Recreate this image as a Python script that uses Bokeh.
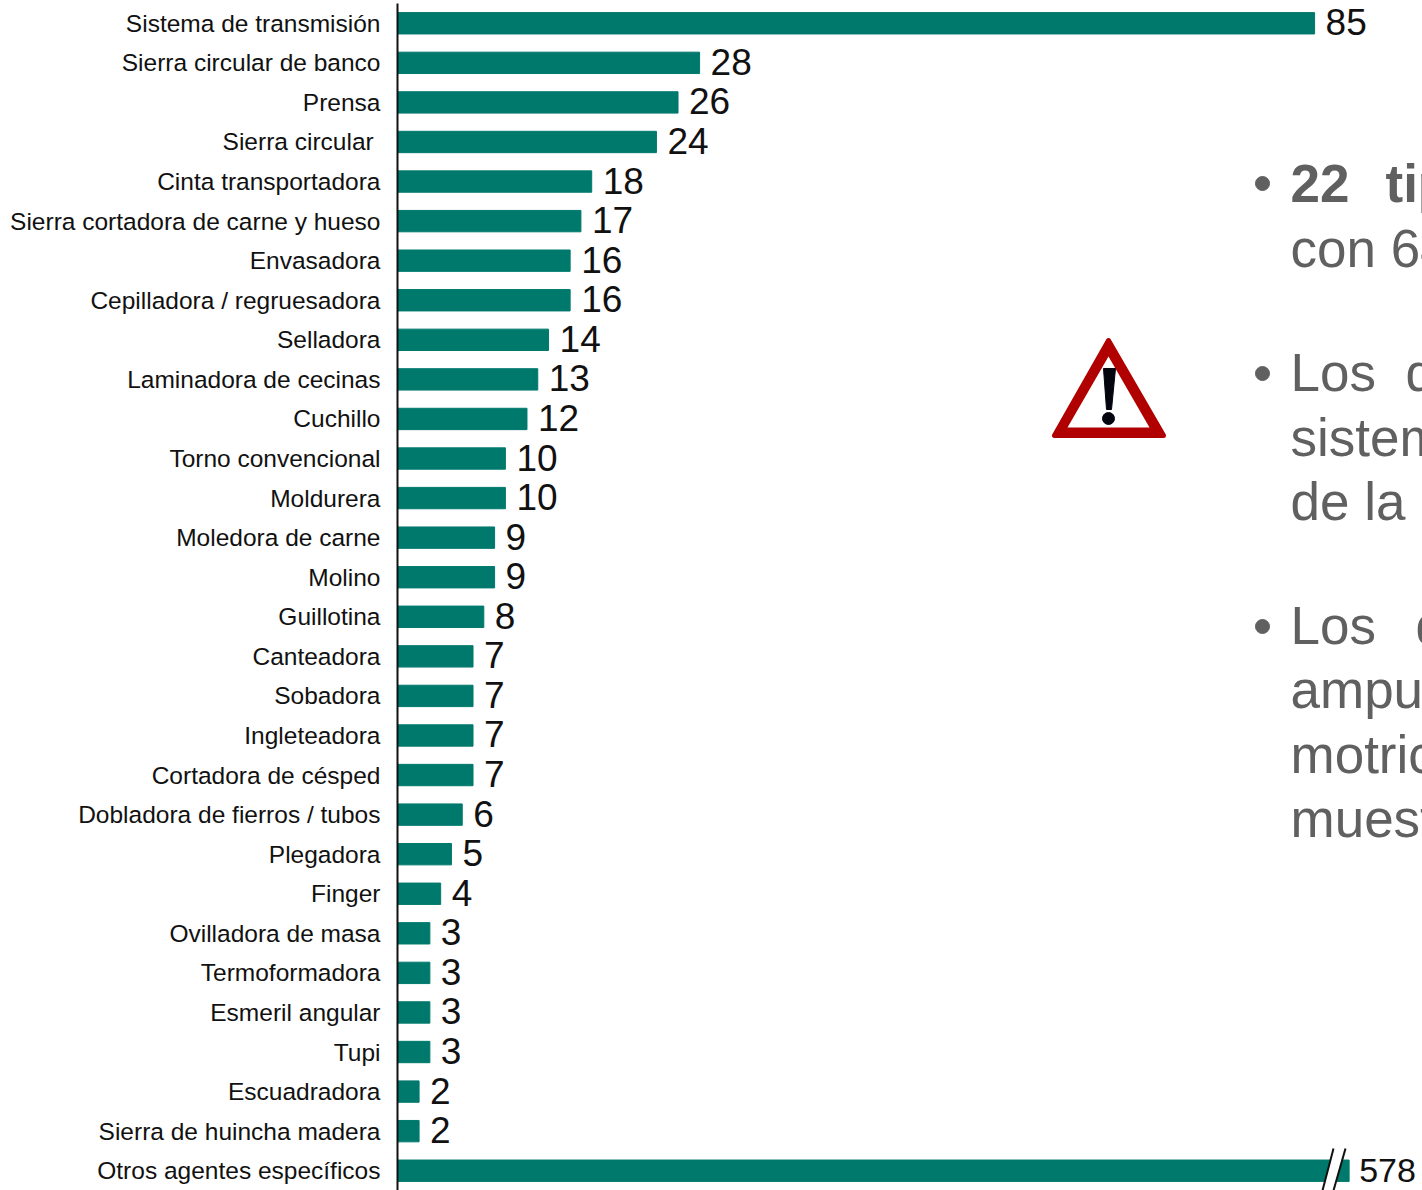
from bokeh.plotting import figure
from bokeh.models import Range1d, FixedTicker
from bokeh.core.properties import value
from bokeh.embed import file_html
from bokeh.resources import INLINE

categories = ["Sistema de transmisión", "Sierra circular de banco", "Prensa", "Sierra circular ",
              "Cinta transportadora", "Sierra cortadora de carne y hueso", "Envasadora",
              "Cepilladora / regruesadora", "Selladora", "Laminadora de cecinas", "Cuchillo",
              "Torno convencional", "Moldurera", "Moledora de carne", "Molino", "Guillotina",
              "Canteadora", "Sobadora", "Ingleteadora", "Cortadora de césped",
              "Dobladora de fierros / tubos", "Plegadora", "Finger", "Ovilladora de masa",
              "Termoformadora", "Esmeril angular", "Tupi", "Escuadradora",
              "Sierra de huincha madera", "Otros agentes específicos"]
values = [85, 28, 26, 24, 18, 17, 16, 16, 14, 13, 12, 10, 10, 9, 9, 8, 7, 7, 7, 7, 6, 5, 4, 3, 3, 3, 3, 2, 2, 578]
axis_break_value = 88.2   # the broken bar is drawn only up to here

BAR = "#00796D"
GREY = "#606060"
FONT = "Liberation Sans"

shown = [min(v, axis_break_value) for v in values]
rows = list(range(len(categories)))

p = figure(width=1422, height=1190, output_backend="svg", toolbar_location=None,
           x_range=Range1d(0, 95), y_range=Range1d(len(rows) - 0.5, -0.5),
           min_border_left=397, min_border_right=0, min_border_top=3, min_border_bottom=0,
           outline_line_color=None, margin=0)
p.grid.visible = False
p.xaxis.visible = False
ax = p.yaxis[0]
ax.ticker = FixedTicker(ticks=rows)
ax.major_label_overrides = {r: c for r, c in zip(rows, categories)}
ax.axis_line_color = "#111111"
ax.axis_line_width = 2
ax.major_tick_line_color = None
ax.minor_tick_line_color = None
ax.major_label_standoff = 11
ax.major_label_text_font = FONT
ax.major_label_text_font_size = "24.5px"
ax.major_label_text_color = "#111111"

p.hbar(y=rows, left=0, right=shown, height=0.54, color=BAR)

p.text(x=values[:-1], y=rows[:-1], text=[str(v) for v in values[:-1]],
       x_offset=11, y_offset=-1, text_align="left", text_baseline="middle",
       text_font=value(FONT), text_font_size="37px", text_color="#111111")
p.text(x=[shown[-1]], y=[rows[-1]], text=[str(values[-1])], x_offset=10,
       text_align="left", text_baseline="middle",
       text_font=value(FONT), text_font_size="34px", text_color="#111111")

# Decorations placed in page pixels
p.extra_x_ranges["px"] = Range1d(397, 1422)
p.extra_y_ranges["px"] = Range1d(1190, 3)
kw = dict(x_range_name="px", y_range_name="px")

p.patch([1322, 1333, 1345, 1334], [1190, 1190, 1148, 1148], fill_color="white", line_color=None, **kw)
p.line([1322, 1333], [1190, 1148], line_color="#111111", line_width=2, **kw)
p.line([1333, 1345], [1190, 1148], line_color="#111111", line_width=2, **kw)

p.patch([1108, 1054, 1163], [340, 435, 435], fill_color="#B00000", line_color="#B00000",
        line_width=5, line_join="round", **kw)
p.patch([1108, 1067, 1149], [356, 427, 427], fill_color="white", line_color=None, **kw)
p.patch([1103, 1115, 1111, 1106], [368, 368, 409, 409], fill_color="#05050F", line_color="#05050F",
        line_width=1, line_join="round", **kw)
p.circle([1108], [418], radius=6, radius_units="screen", color="#05050F", **kw)

bul_x = [1262, 1262, 1262]
bul_y = [183, 373, 626]
p.circle(bul_x, bul_y, radius=7, radius_units="screen", color=GREY, **kw)

p.text([1290, 1385], [183, 183], text=["22", "tip"], text_font=value(FONT), text_font_size="53px",
       text_font_style="bold", text_color=GREY, text_baseline="alphabetic", **kw)
body_x = [1290, 1290, 1405, 1290, 1290, 1290, 1415, 1290, 1290, 1290]
body_y = [248, 372, 372, 437, 501, 625, 625, 689, 754, 818]
body_t = ["con 64", "Los", "d", "sistema", "de la", "Los", "d", "amput", "motric", "muest"]
p.text(body_x, body_y, text=body_t, text_font=value(FONT), text_font_size="53px",
       text_color=GREY, text_baseline="alphabetic", **kw)

open("out.html", "w").write(file_html(p, INLINE))
